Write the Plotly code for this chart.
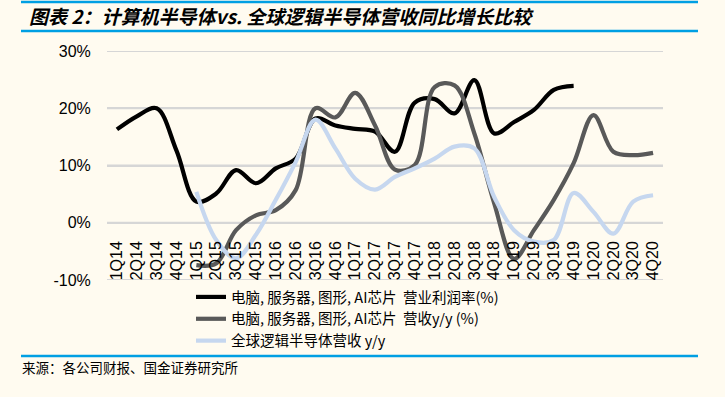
import plotly.graph_objects as go

quarters = ["1Q14", "2Q14", "3Q14", "4Q14",
            "1Q15", "2Q15", "3Q15", "4Q15",
            "1Q16", "2Q16", "3Q16", "4Q16",
            "1Q17", "2Q17", "3Q17", "4Q17",
            "1Q18", "2Q18", "3Q18", "4Q18",
            "1Q19", "2Q19", "3Q19", "4Q19",
            "1Q20", "2Q20", "3Q20", "4Q20"]

# 电脑, 服务器, 图形, AI芯片 营业利润率(%)  (1Q14-4Q19)
op_margin = [16.3, 18.6, 20.0, 12.6,
             3.7, 5.1, 9.2, 6.9,
             9.5, 11.2, 18.2, 17.0,
             16.4, 15.9, 12.4, 21.0,
             21.6, 19.1, 24.9, 15.6,
             17.6, 19.7, 23.2, 23.9]

# 电脑, 服务器, 图形, AI芯片 营收y/y (%)  (1Q15-4Q20)
rev_yoy = [None, None, None, None,
           -7.4, -7.1, -1.3, 1.3,
           2.2, 5.7, 20.0, 18.4,
           22.7, 17.0, 9.3, 10.1,
           23.7, 24.0, 15.6, 3.4,
           -6.3, -1.3, 4.0, 10.4,
           18.8, 12.4, 11.8, 12.2]

# 全球逻辑半导体营收 y/y  (1Q15-4Q20)
logic_yoy = [None, None, None, None,
             5.4, -3.0, -6.2, -2.1,
             4.0, 10.6, 18.0, 13.0,
             7.7, 5.8, 8.0, 9.5,
             11.2, 13.3, 13.0, 4.5,
             -1.3, -3.3, -3.0, 5.2,
             1.9, -1.9, 3.7, 4.8]

names = ["电脑, 服务器, 图形, AI芯片  营业利润率(%)",
         "电脑, 服务器, 图形, AI芯片  营收y/y (%)",
         "全球逻辑半导体营收 y/y"]

y_ticks = [-10, 0, 10, 20, 30]
y_tick_labels = ["-10%", "0%", "10%", "20%", "30%"]

BG = "#FFFBF0"
BLUE = "#009FE3"
GRID = "#D6D6D6"
FONT = "Liberation Sans, Noto Sans CJK SC, sans-serif"
CJK = "Noto Sans CJK SC, Liberation Sans, sans-serif"

fig = go.Figure()
fig.add_trace(go.Scatter(x=quarters[:len(op_margin)], y=op_margin, name=names[0],
                         mode="lines", line=dict(color="#000000", width=4.2, shape="spline", smoothing=1.0)))
fig.add_trace(go.Scatter(x=quarters, y=rev_yoy, name=names[1],
                         mode="lines", line=dict(color="#595959", width=4.2, shape="spline", smoothing=1.0)))
fig.add_trace(go.Scatter(x=quarters, y=logic_yoy, name=names[2],
                         mode="lines", line=dict(color="#C6D7EF", width=4.2, shape="spline", smoothing=1.0)))

L, R, T, B = 107, 62, 51, 117
W, H = 725, 397
pw = W - L - R
ph = H - T - B

def px(x):
    return (x - L) / pw

def py(y):
    return (H - B - y) / ph

fig.update_layout(
    template="none",
    width=W, height=H,
    margin=dict(l=L, r=R, t=T, b=B, autoexpand=False),
    paper_bgcolor=BG, plot_bgcolor=BG,
    font=dict(family=FONT, size=16, color="#000000"),
    showlegend=True,
    legend=dict(x=px(191), y=py(281), xanchor="left", yanchor="top",
                bgcolor="rgba(0,0,0,0)", font=dict(family=CJK, size=14.5, color="#000000"),
                tracegroupgap=0, itemwidth=30),
    xaxis=dict(type="category", range=[-0.5, len(quarters) - 0.5],
               anchor="free", position=0.25, showline=False, showgrid=False, zeroline=False,
               ticks="outside", ticklen=11, tickcolor="rgba(0,0,0,0)", tickangle=-90,
               tickfont=dict(family=FONT, size=16, color="#000000")),
    yaxis=dict(type="linear", range=[-10, 30], tickmode="array", tickvals=y_ticks, ticktext=y_tick_labels,
               showgrid=True, gridcolor=GRID, gridwidth=2,
               zeroline=False, showline=False,
               ticks="outside", ticklen=12, tickcolor="rgba(0,0,0,0)",
               tickfont=dict(family=FONT, size=16, color="#000000")),
)

# horizontal gridlines at the y tick values (drawn beneath the series)
for v in y_ticks:
    fig.add_hline(y=v, line=dict(color=GRID, width=2), layer="below")

# title and decorative rules
fig.add_annotation(xref="paper", yref="paper", x=px(27), y=py(16), xanchor="left", yanchor="middle",
                   text="<b><i>图表 2：计算机半导体vs. 全球逻辑半导体营收同比增长比较</i></b>",
                   showarrow=False, font=dict(family=CJK, size=19, color="#000000"))
fig.add_annotation(xref="paper", yref="paper", x=px(20), y=py(367), xanchor="left", yanchor="middle",
                   text="来源：各公司财报、国金证券研究所",
                   showarrow=False, font=dict(family=CJK, size=13.5, color="#000000"))
for yy in (2, 31, 356):
    fig.add_shape(type="line", xref="paper", yref="paper", x0=px(21), x1=px(698), y0=py(yy), y1=py(yy),
                  line=dict(color=BLUE, width=2.5))

fig.write_html("out.html", config={"displayModeBar": False},
               post_script="document.body.style.margin='0';document.body.style.padding='0';")
